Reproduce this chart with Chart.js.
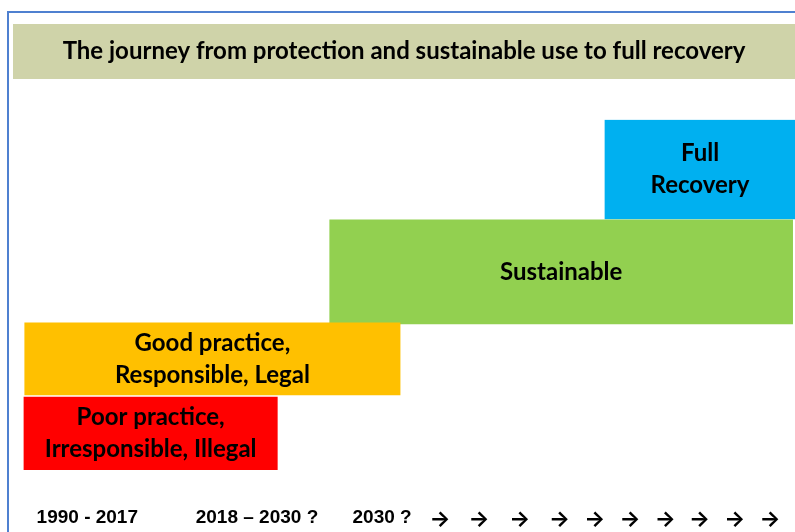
<!DOCTYPE html>
<html>
<head>
<meta charset="utf-8">
<script src="https://cdn.jsdelivr.net/npm/chart.js@4"></script>
<style>
  html, body { margin: 0; padding: 0; background: #fff; }
  #wrap { width: 795px; height: 532px; }
</style>
</head>
<body>
<div id="wrap"><canvas id="journeyChart" width="795" height="532"></canvas></div>
<script>
// ==================== DATA ====================
const stageLabels = [
    ['Poor practice,', 'Irresponsible, Illegal'],
    ['Good practice,', 'Responsible, Legal'],
    ['Sustainable'],
    ['Full', 'Recovery']
];
const stageStart = [1.4, 1.5, 40.5, 75.7];
const stageEnd = [33.8, 49.5, 99.7, 100];
const stageLow = [0, 7.5, 14.6, 25.1];
const stageHigh = [7.3, 14.7, 25, 35];
const stageColors = ['#FF0000', '#FFC000', '#92D050', '#00B0F0'];

const tickPos = [9.5, 31.2, 47.2, 54.6, 59.6, 64.8, 69.9, 74.4, 78.9, 83.4, 87.8, 92.3, 96.8];
const tickLabels = ['1990 - 2017', '2018 \u2013 2030 ?', '2030 ?',
    '\u2192', '\u2192', '\u2192', '\u2192', '\u2192', '\u2192', '\u2192', '\u2192', '\u2192', '\u2192'];

const chartTitle = 'The journey from protection and sustainable use to full recovery';

// ==================== PLUGINS ====================
const frameAndBanner = {
    id: 'frameAndBanner',
    beforeDraw(chart) {
        const ctx = chart.ctx;
        const tb = chart.titleBlock;
        ctx.save();
        // outer frame (left + top edges)
        ctx.strokeStyle = '#4F80D0';
        ctx.lineWidth = 2;
        ctx.beginPath();
        ctx.moveTo(8, chart.height);
        ctx.lineTo(8, 12);
        ctx.lineTo(chart.width, 12);
        ctx.stroke();
        // title banner
        ctx.fillStyle = '#CFD3A9';
        ctx.fillRect(tb.left, tb.top, tb.width, 55);
        ctx.restore();
    }
};

const barText = {
    id: 'barText',
    afterDatasetsDraw(chart) {
        const ctx = chart.ctx;
        ctx.save();
        ctx.fillStyle = '#000';
        ctx.font = 'bold 24px Lato';
        ctx.textAlign = 'center';
        ctx.textBaseline = 'middle';
        chart.data.datasets.forEach((ds, i) => {
            const bar = chart.getDatasetMeta(i).data[0];
            if (!bar) return;
            const cx = (bar.x + bar.base) / 2;
            const lines = stageLabels[i];
            const lh = 32;
            const y0 = bar.y - (lines.length - 1) * lh / 2;
            lines.forEach((t, j) => ctx.fillText(t, cx, y0 + j * lh));
        });
        ctx.restore();
    }
};

// ==================== CHART ====================
function thickness(i) {
    return (ctx) => {
        const y = ctx.chart.scales.y;
        return Math.abs(y.getPixelForValue(stageLow[i]) - y.getPixelForValue(stageHigh[i]));
    };
}

const datasets = stageLabels.map((lab, i) => ({
    label: lab.join(' '),
    data: [{ x: [stageStart[i], stageEnd[i]], y: (stageLow[i] + stageHigh[i]) / 2 }],
    backgroundColor: stageColors[i],
    borderWidth: 0,
    stack: 'journey',
    barThickness: thickness(i)
}));

const ctx = document.getElementById('journeyChart').getContext('2d');

new Chart(ctx, {
    type: 'bar',
    data: { datasets },
    options: {
        indexAxis: 'y',
        responsive: false,
        animation: false,
        layout: { padding: { top: 24, left: 13, right: 0, bottom: 0 } },
        plugins: {
            legend: { display: false },
            tooltip: { enabled: false },
            title: {
                display: true,
                text: chartTitle,
                color: '#000',
                font: { family: 'Lato', size: 24, weight: 'bold' },
                padding: { top: 13, bottom: 54 }
            }
        },
        scales: {
            x: {
                type: 'linear',
                min: 0,
                max: 100,
                stacked: false,
                grid: { display: false, drawTicks: false },
                border: { display: false },
                afterBuildTicks: (scale) => { scale.ticks = tickPos.map(v => ({ value: v })); },
                afterFit: (scale) => {
                    scale.height = 62;
                    scale.paddingLeft = 0;
                    scale.paddingRight = 0;
                },
                ticks: {
                    autoSkip: false,
                    maxRotation: 0,
                    padding: 36,
                    color: '#000',
                    font: (c) => c.index < 3
                        ? { family: 'Liberation Sans', size: 19, weight: 'bold' }
                        : { family: 'Inter', size: 22, weight: 'bold' },
                    callback: (v, i) => tickLabels[i]
                }
            },
            y: {
                type: 'linear',
                display: false,
                offset: false,
                min: 0,
                max: 35
            }
        }
    },
    plugins: [frameAndBanner, barText]
});
</script>
</body>
</html>
